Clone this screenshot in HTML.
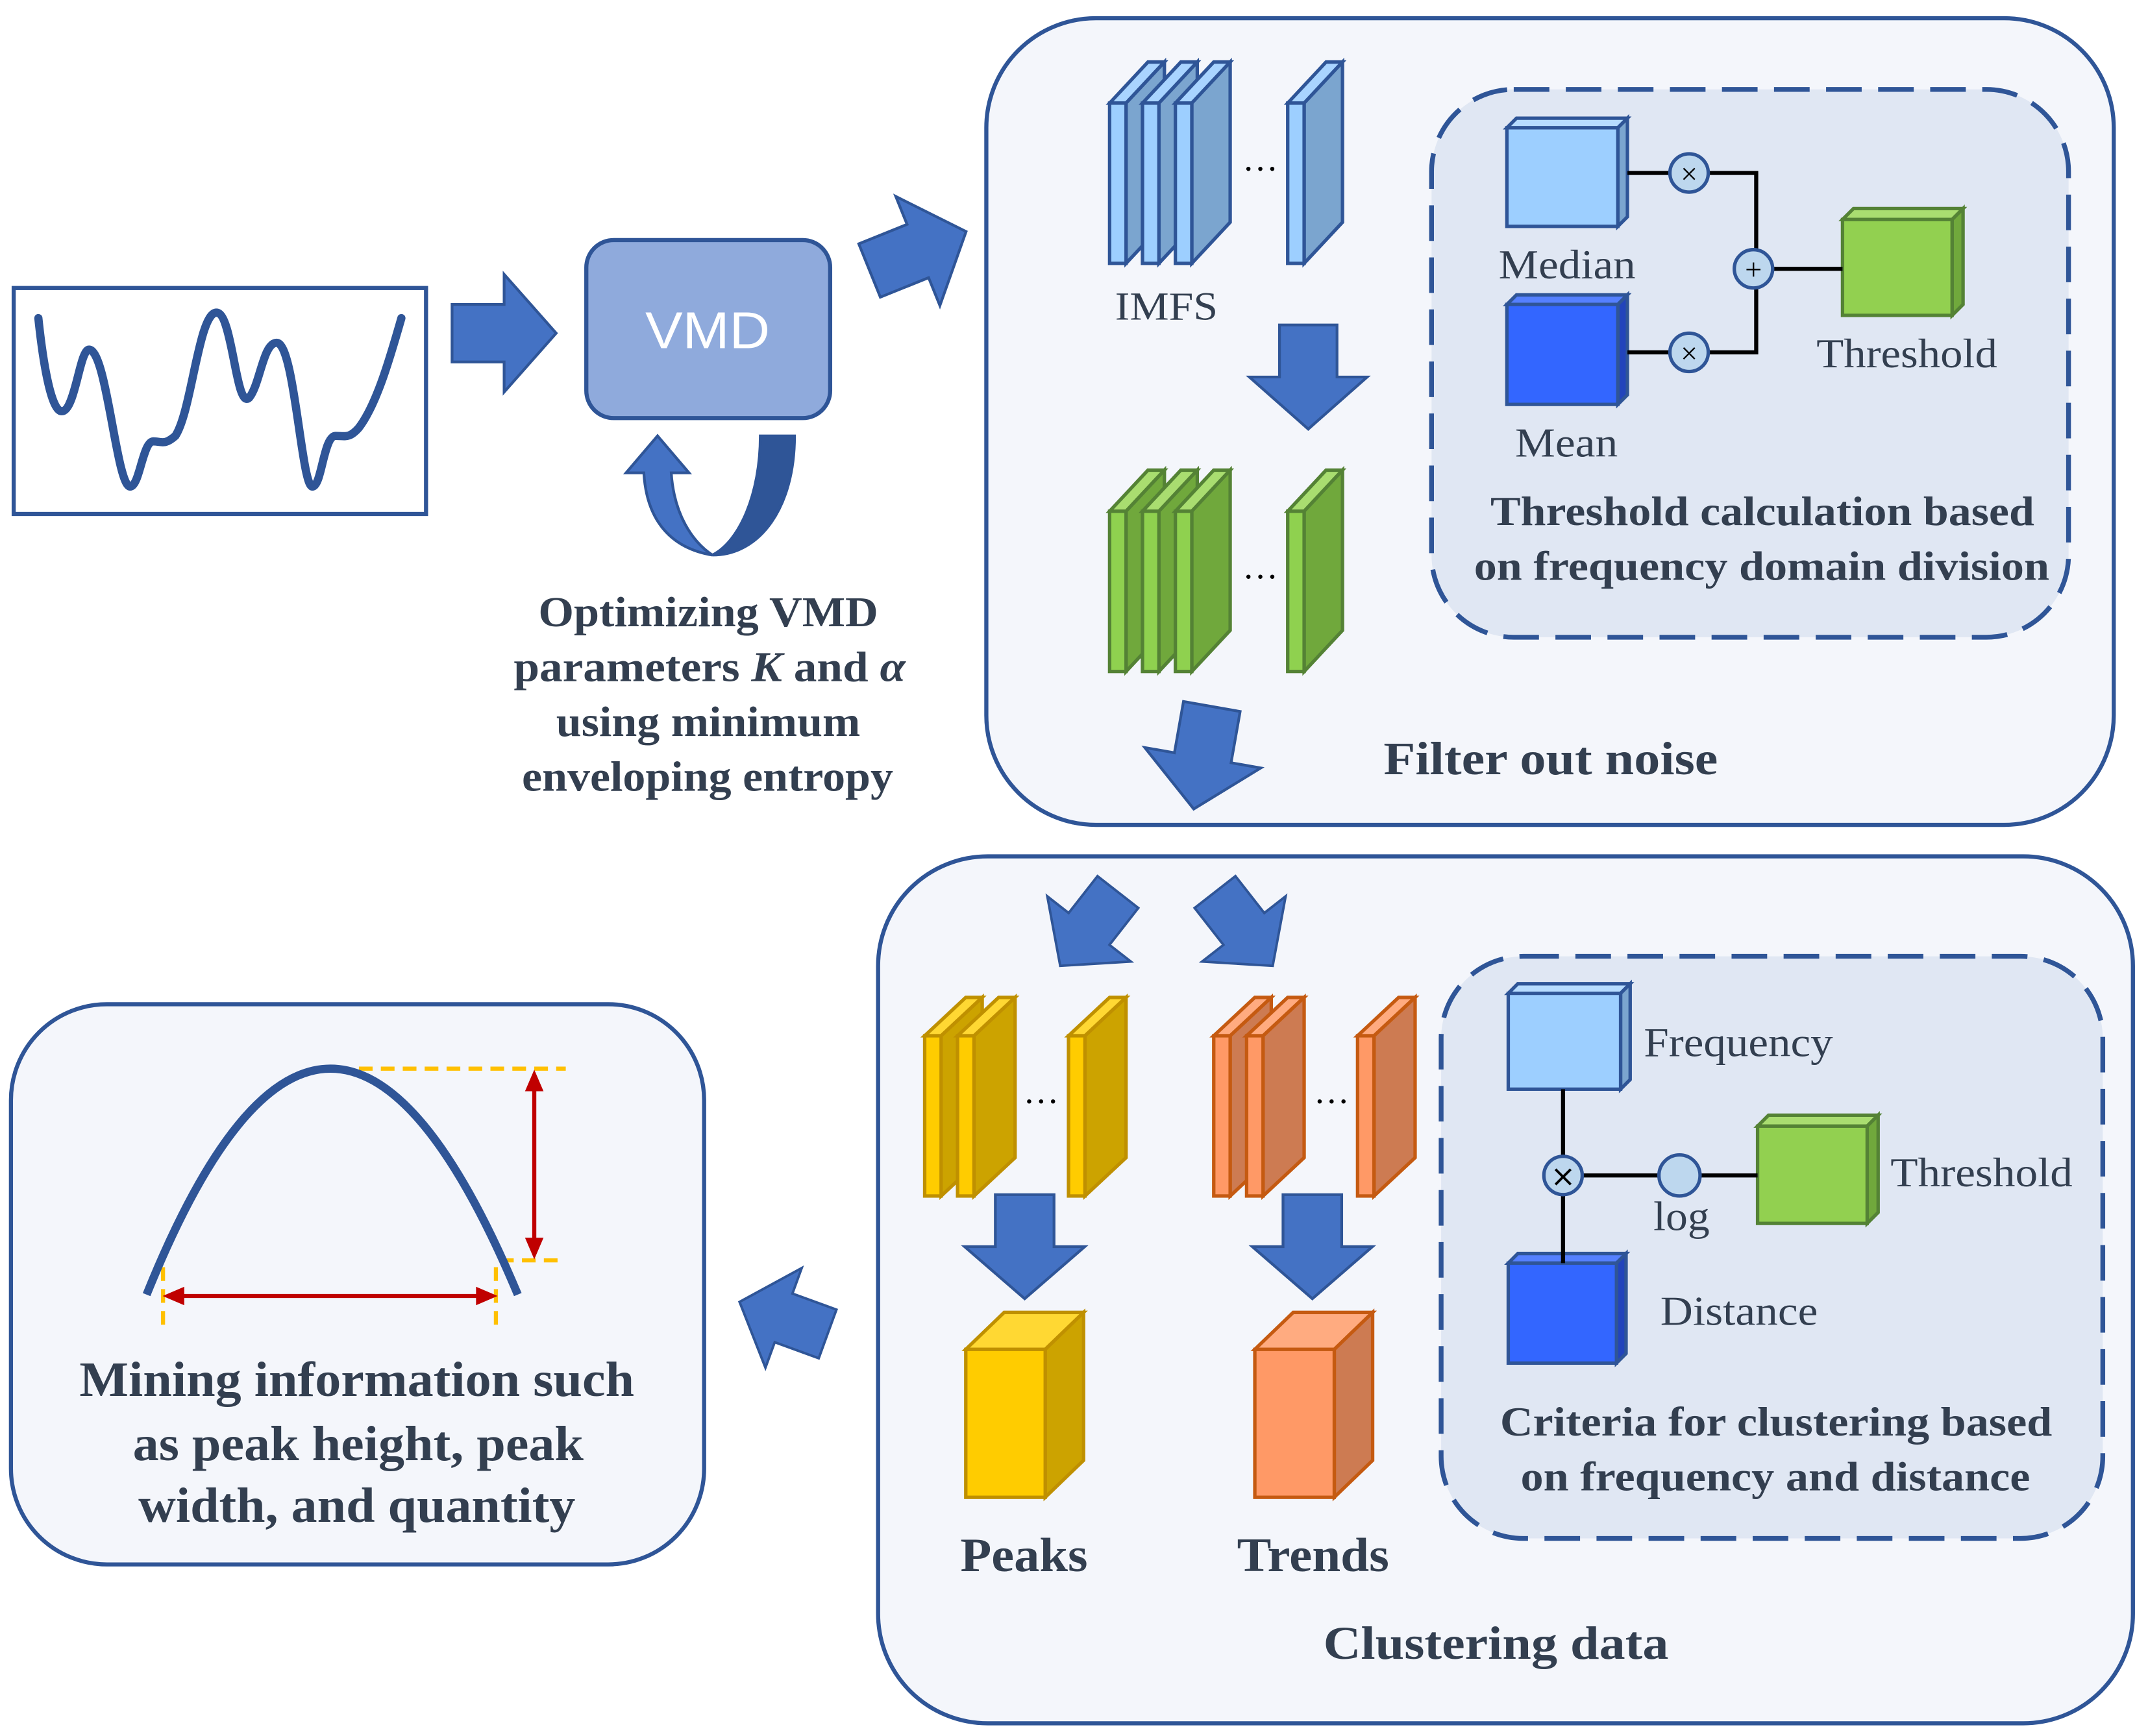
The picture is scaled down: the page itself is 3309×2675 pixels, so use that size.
<!DOCTYPE html>
<html><head><meta charset="utf-8"><style>
html,body{margin:0;padding:0;background:#fff}
svg{display:block}
text{font-family:"Liberation Serif",serif;fill:#333f50}
.b{font-weight:bold}
</style></head><body>
<svg width="3309" height="2675" viewBox="0 0 1568 1267" xmlns="http://www.w3.org/2000/svg">
<defs>
<g id="arr"><path d="M-38,-21 L0,-21 L0,-43 L38,0 L0,43 L0,21 L-38,21 Z" fill="#4472c4" stroke="#2f5597" stroke-width="2"/></g>
<g id="sbB" stroke="#2f5597" stroke-width="2.5" stroke-linejoin="miter">
<polygon points="0,0 28,-30 40,-30 12,0" fill="#a9d4ff"/>
<polygon points="12,0 40,-30 40,87 12,117" fill="#7ba5cf"/>
<rect x="0" y="0" width="12" height="117" fill="#9dcfff"/></g>
<g id="sbG" stroke="#548235" stroke-width="2.5">
<polygon points="0,0 28,-30 40,-30 12,0" fill="#a9dd70"/>
<polygon points="12,0 40,-30 40,87 12,117" fill="#70a83c"/>
<rect x="0" y="0" width="12" height="117" fill="#8fd14f"/></g>
<g id="sbY" stroke="#bf9000" stroke-width="2.5">
<polygon points="0,0 30,-28 42,-28 12,0" fill="#ffd833"/>
<polygon points="12,0 42,-28 42,89 12,117" fill="#cca300"/>
<rect x="0" y="0" width="12" height="117" fill="#ffcc00"/></g>
<g id="sbO" stroke="#c55a11" stroke-width="2.5">
<polygon points="0,0 30,-28 42,-28 12,0" fill="#ffab80"/>
<polygon points="12,0 42,-28 42,89 12,117" fill="#cd7b52"/>
<rect x="0" y="0" width="12" height="117" fill="#ff9966"/></g>
</defs>

<!-- signal -->
<rect x="10" y="210" width="301" height="165" fill="#fff" stroke="#2f5597" stroke-width="3"/>
<path d="M28,232 C32,270 38,300 45,300 C55,300 58,255 65,255 C78,255 85,355 95,355 C102,355 104,322 112,322 C118,322 120,325 128,318 C140,300 145,228 158,228 C170,228 172,300 182,290 C190,280 192,250 202,250 C215,250 220,355 228,355 C235,355 236,318 245,318 C252,318 255,320 262,312 C275,295 285,260 293,232" fill="none" stroke="#2f5597" stroke-width="6" stroke-linecap="round"/>
<use href="#arr" transform="translate(368,243)"/>

<!-- VMD -->
<rect x="428" y="175" width="178" height="130" rx="20" fill="#8faadc" stroke="#2f5597" stroke-width="3"/>
<text x="471" y="254" font-size="38" textLength="91" lengthAdjust="spacingAndGlyphs" style="fill:#fff;font-family:'Liberation Sans',sans-serif">VMD</text>
<path d="M555,318 L580,318 C580,370 555,405 520,405 C540,395 555,360 555,318 Z" fill="#2f5597" stroke="#2f5597" stroke-width="2"/>
<path d="M520,405 C490,400 472,380 470,345 L457,345 L480,318 L503,345 L490,345 C492,375 505,395 520,405 Z" fill="#4472c4" stroke="#2f5597" stroke-width="2"/>
<g font-size="31" lengthAdjust="spacingAndGlyphs">
<text x="393" y="457" class="b" textLength="248" lengthAdjust="spacingAndGlyphs">Optimizing VMD</text>
<text x="375" y="497" class="b" textLength="286" lengthAdjust="spacingAndGlyphs">parameters <tspan font-style="italic">K</tspan> and <tspan font-style="italic">α</tspan></text>
<text x="406" y="537" class="b" textLength="222" lengthAdjust="spacingAndGlyphs">using minimum</text>
<text x="381" y="577" class="b" textLength="271" lengthAdjust="spacingAndGlyphs">enveloping entropy</text>
</g>
<use href="#arr" transform="translate(670,183) rotate(-22)"/>

<!-- top panel -->
<rect x="720" y="13" width="823" height="589" rx="80" fill="#f4f6fb" stroke="#2f5597" stroke-width="3"/>
<rect x="1045" y="65" width="465" height="400" rx="60" fill="#e0e7f3" stroke="#2f5597" stroke-width="3.5" stroke-dasharray="26 12"/>
<use href="#sbB" x="810" y="75"/><use href="#sbB" x="834" y="75"/><use href="#sbB" x="858" y="75"/><use href="#sbB" x="940" y="75"/>
<text x="920" y="124" font-size="26" text-anchor="middle" style="fill:#000">…</text>
<text x="814" y="233" font-size="29" textLength="75" lengthAdjust="spacingAndGlyphs">IMFS</text>
<use href="#arr" transform="translate(955,275) rotate(90)"/>
<use href="#sbG" x="810" y="373"/><use href="#sbG" x="834" y="373"/><use href="#sbG" x="858" y="373"/><use href="#sbG" x="940" y="373"/>
<text x="920" y="422" font-size="26" text-anchor="middle" style="fill:#000">…</text>
<use href="#arr" transform="translate(878,553) rotate(100)"/>
<g stroke-width="2.5">
<polygon points="1100,93 1107,86 1188,86 1181,93" fill="#b7dcff" stroke="#2f5597"/>
<polygon points="1181,93 1188,86 1188,158 1181,165" fill="#7ba5cf" stroke="#2f5597"/>
<rect x="1100" y="93" width="81" height="72" fill="#9dcfff" stroke="#2f5597"/>
<polygon points="1100,222 1107,215 1188,215 1181,222" fill="#5580ff" stroke="#2f5597"/>
<polygon points="1181,222 1188,215 1188,288 1181,295" fill="#2244bb" stroke="#2f5597"/>
<rect x="1100" y="222" width="81" height="73" fill="#3366ff" stroke="#2f5597"/>
<polygon points="1345,160 1353,152 1433,152 1425,160" fill="#a9dd70" stroke="#548235"/>
<polygon points="1425,160 1433,152 1433,222 1425,230" fill="#70a83c" stroke="#548235"/>
<rect x="1345" y="160" width="80" height="70" fill="#92d050" stroke="#548235"/>
</g>
<g stroke="#000" stroke-width="3" fill="none">
<path d="M1188,126 H1219 M1247,126 H1282 V182 M1188,257 H1219 M1247,257 H1282 V210 M1294,196 H1345"/>
</g>
<g stroke="#2f5597" stroke-width="2.5" fill="#bdd7ee">
<circle cx="1233" cy="126" r="14"/><circle cx="1233" cy="257" r="14"/><circle cx="1280" cy="196" r="14"/>
</g>
<g font-size="22" text-anchor="middle" style="font-family:'DejaVu Sans',sans-serif">
<text x="1233" y="134" style="fill:#000">×</text><text x="1233" y="265" style="fill:#000">×</text><text x="1280" y="204" style="fill:#000">+</text>
</g>
<text x="1094" y="203" font-size="30" textLength="100" lengthAdjust="spacingAndGlyphs">Median</text>
<text x="1106" y="333" font-size="30" textLength="75" lengthAdjust="spacingAndGlyphs">Mean</text>
<text x="1326" y="268" font-size="30" textLength="132" lengthAdjust="spacingAndGlyphs">Threshold</text>
<text x="1088" y="383" font-size="30" class="b" textLength="397" lengthAdjust="spacingAndGlyphs">Threshold calculation based</text>
<text x="1076" y="423" font-size="30" class="b" textLength="420" lengthAdjust="spacingAndGlyphs">on frequency domain division</text>
<text x="1010" y="565" font-size="34" class="b" textLength="244" lengthAdjust="spacingAndGlyphs">Filter out noise</text>

<!-- bottom panel -->
<rect x="641" y="625" width="916" height="633" rx="80" fill="#f4f6fb" stroke="#2f5597" stroke-width="3"/>
<rect x="1052" y="698" width="483" height="425" rx="60" fill="#e0e7f3" stroke="#2f5597" stroke-width="3.5" stroke-dasharray="26 12"/>
<use href="#arr" transform="translate(795,678) rotate(128) scale(0.9)"/>
<use href="#arr" transform="translate(908,678) rotate(52) scale(0.9)"/>
<use href="#sbY" x="675" y="756"/><use href="#sbY" x="699" y="756"/><use href="#sbY" x="780" y="756"/>
<use href="#sbO" x="886" y="756"/><use href="#sbO" x="910" y="756"/><use href="#sbO" x="991" y="756"/>
<text x="760" y="805" font-size="26" text-anchor="middle" style="fill:#000">…</text>
<text x="972" y="805" font-size="26" text-anchor="middle" style="fill:#000">…</text>
<use href="#arr" transform="translate(748,910) rotate(90) scale(1,1.02)"/>
<use href="#arr" transform="translate(958,910) rotate(90) scale(1,1.02)"/>
<g stroke-width="2.5">
<polygon points="705,985 733,958 791,958 763,985" fill="#ffd833" stroke="#bf9000"/>
<polygon points="763,985 791,958 791,1066 763,1093" fill="#cca300" stroke="#bf9000"/>
<rect x="705" y="985" width="58" height="108" fill="#ffcc00" stroke="#bf9000"/>
<polygon points="916,985 944,958 1002,958 974,985" fill="#ffab80" stroke="#c55a11"/>
<polygon points="974,985 1002,958 1002,1066 974,1093" fill="#cd7b52" stroke="#c55a11"/>
<rect x="916" y="985" width="58" height="108" fill="#ff9966" stroke="#c55a11"/>
<polygon points="1101,725 1108,718 1190,718 1183,725" fill="#b7dcff" stroke="#2f5597"/>
<polygon points="1183,725 1190,718 1190,788 1183,795" fill="#7ba5cf" stroke="#2f5597"/>
<rect x="1101" y="725" width="82" height="70" fill="#9dcfff" stroke="#2f5597"/>
<polygon points="1101,922 1108,915 1187,915 1180,922" fill="#5580ff" stroke="#2f5597"/>
<polygon points="1180,922 1187,915 1187,988 1180,995" fill="#2244bb" stroke="#2f5597"/>
<rect x="1101" y="922" width="79" height="73" fill="#3366ff" stroke="#2f5597"/>
<polygon points="1283,822 1291,814 1371,814 1363,822" fill="#a9dd70" stroke="#548235"/>
<polygon points="1363,822 1371,814 1371,885 1363,893" fill="#70a83c" stroke="#548235"/>
<rect x="1283" y="822" width="80" height="71" fill="#92d050" stroke="#548235"/>
</g>
<path d="M1141,795 V922 M1155,858 H1212 M1241,858 H1283" stroke="#000" stroke-width="3" fill="none"/>
<circle cx="1141" cy="858" r="14" fill="#bdd7ee" stroke="#2f5597" stroke-width="2.5"/>
<circle cx="1226" cy="858" r="15" fill="#bdd7ee" stroke="#2f5597" stroke-width="2.5"/>
<text x="1141" y="866" font-size="22" text-anchor="middle" style="fill:#000;font-family:'DejaVu Sans',sans-serif">×</text>
<text x="1200" y="771" font-size="30" textLength="138" lengthAdjust="spacingAndGlyphs">Frequency</text>
<text x="1212" y="967" font-size="30" textLength="115" lengthAdjust="spacingAndGlyphs">Distance</text>
<text x="1380" y="866" font-size="30" textLength="133" lengthAdjust="spacingAndGlyphs">Threshold</text>
<text x="1207" y="898" font-size="30" textLength="41" lengthAdjust="spacingAndGlyphs">log</text>
<text x="1095" y="1048" font-size="30" class="b" textLength="403" lengthAdjust="spacingAndGlyphs">Criteria for clustering based</text>
<text x="1110" y="1088" font-size="30" class="b" textLength="372" lengthAdjust="spacingAndGlyphs">on frequency and distance</text>
<text x="701" y="1147" font-size="35" class="b" textLength="93" lengthAdjust="spacingAndGlyphs">Peaks</text>
<text x="903" y="1147" font-size="35" class="b" textLength="111" lengthAdjust="spacingAndGlyphs">Trends</text>
<text x="966" y="1211" font-size="34" class="b" textLength="252" lengthAdjust="spacingAndGlyphs">Clustering data</text>

<use href="#arr" transform="translate(572,962) rotate(200) scale(0.9)"/>

<!-- left panel -->
<rect x="8" y="733" width="506" height="409" rx="70" fill="#f4f6fb" stroke="#2f5597" stroke-width="3"/>
<g stroke="#ffc000" stroke-width="3" stroke-dasharray="10 6" fill="none">
<path d="M262,780 H413 M365,920 H413 M119,925 V972 M362,925 V972"/>
</g>
<path d="M107,945 Q240,615 378,945" fill="none" stroke="#2f5597" stroke-width="6"/>
<g stroke="#c00000" stroke-width="3" fill="#c00000">
<path d="M390,792 V908" fill="none"/>
<polygon points="390,782 384,796 396,796" stroke-width="1"/>
<polygon points="390,918 384,904 396,904" stroke-width="1"/>
<path d="M130,946 H352" fill="none"/>
<polygon points="120,946 134,940 134,952" stroke-width="1"/>
<polygon points="362,946 348,940 348,952" stroke-width="1"/>
</g>
<text x="58" y="1019" font-size="36" class="b" textLength="405" lengthAdjust="spacingAndGlyphs">Mining information such</text>
<text x="97" y="1066" font-size="36" class="b" textLength="329" lengthAdjust="spacingAndGlyphs">as peak height, peak</text>
<text x="101" y="1111" font-size="36" class="b" textLength="319" lengthAdjust="spacingAndGlyphs">width, and quantity</text>
</svg>
</body></html>
